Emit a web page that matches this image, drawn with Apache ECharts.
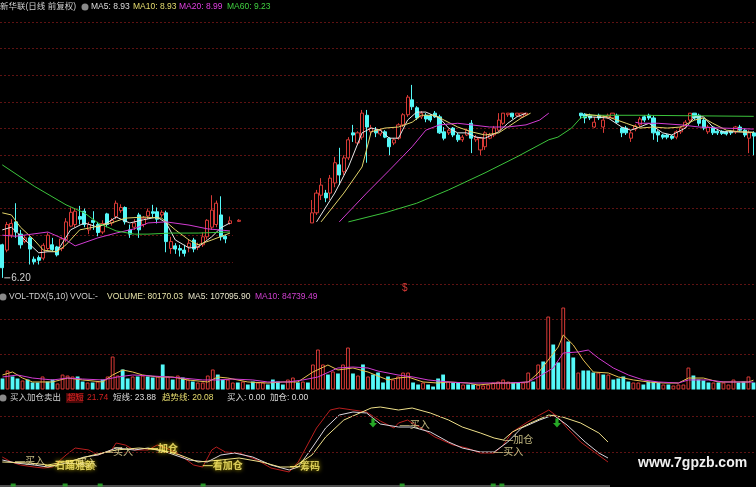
<!DOCTYPE html>
<html>
<head>
<meta charset="utf-8">
<script src="https://cdn.jsdelivr.net/npm/echarts@6/dist/echarts.min.js"></script>
<style>
html,body{margin:0;padding:0;background:#000;}
#c{width:756px;height:487px;}
</style>
</head>
<body>
<div id="c"></div>
<script>
// ---- daily candles: [open, close, low, high] ----
const candleLeftStart = 0;
const candleLeft = [
  [6.82,6.39,6.20,6.84],[6.72,7.20,6.68,7.25],[7.00,7.22,6.95,7.30],[7.25,7.06,6.95,7.60],[7.02,6.82,6.75,7.10],
  [6.88,6.95,6.85,7.00],[6.95,6.74,6.45,6.98],[6.55,6.50,6.45,6.60],[6.58,6.53,6.45,6.62],[6.57,6.81,6.53,6.85],
  [6.75,7.00,6.70,7.05],[6.82,6.73,6.70,6.95],[6.78,6.63,6.60,6.80],[6.75,6.93,6.70,6.97],[6.92,7.25,6.87,7.32],
  [7.17,7.43,7.15,7.52],[7.20,7.45,7.15,7.50],[7.35,7.30,7.20,7.55],[7.45,7.20,7.15,7.50],[7.10,7.20,7.02,7.25],
  [7.28,7.24,7.10,7.45],[7.20,7.05,6.98,7.25],[7.06,7.22,7.02,7.28],[7.40,7.20,7.15,7.42],[7.23,7.28,7.18,7.32],
  [7.35,7.60,7.30,7.65],[7.46,7.52,7.42,7.58],[7.52,7.25,7.20,7.54],[7.10,7.02,6.95,7.20],[7.15,7.23,7.10,7.30],
  [7.38,7.10,6.95,7.42],[7.20,7.32,7.15,7.36],[7.36,7.45,7.30,7.50],[7.44,7.41,7.33,7.57],[7.44,7.30,7.22,7.52],
  [7.38,7.43,7.34,7.47],[7.42,6.88,6.68,7.46],[6.75,6.88,6.65,6.97],[6.80,6.74,6.65,6.85],[6.75,6.72,6.60,6.82],
  [6.72,6.66,6.60,6.82],[6.78,6.85,6.68,6.92],[6.91,6.74,6.68,6.95],[6.77,6.82,6.72,6.86],[6.82,6.97,6.78,7.05],
  [6.97,7.28,6.92,7.30],[7.15,7.47,7.10,7.75],[7.20,7.60,7.15,7.65],[7.38,6.97,6.90,7.73],[6.98,6.93,6.85,7.00],
  [7.22,7.27,7.20,7.35]
];
const candleDojiStart = 52;
const candleDoji = [[7.26,7.28,7.25,7.30]];
const candleRallyStart = 68;
const candleRally = [
  [7.23,7.42,7.23,7.66],[7.42,7.79,7.38,7.85],[7.75,7.94,7.66,8.07],[7.79,7.70,7.62,7.85],[7.79,8.07,7.66,8.13],
  [7.98,8.36,7.90,8.47],[8.32,8.13,7.94,8.64],[8.19,8.45,8.13,8.50],[8.45,8.79,8.41,8.84],[8.92,8.88,8.75,9.07],
  [8.73,8.92,8.69,8.95],[8.84,9.29,8.79,9.35],[9.25,9.03,8.36,9.35],[8.94,9.01,8.90,9.07],[8.97,8.92,8.84,9.03],
  [8.90,8.97,8.86,9.00],[8.94,8.84,8.82,8.97],[8.82,8.66,8.50,8.84],[8.73,8.79,8.69,8.82],[8.82,9.07,8.79,9.10],
  [9.07,9.26,9.03,9.29],[9.26,9.59,9.22,9.63],[9.54,9.41,9.35,9.82],[9.39,9.20,9.16,9.42],[9.22,9.29,9.18,9.33],
  [9.25,9.18,9.12,9.29],[9.24,9.16,9.12,9.27],[9.29,9.22,9.20,9.33],[9.22,8.92,8.90,9.26],[8.94,8.82,8.78,9.03],
  [8.92,8.97,8.88,9.00],[9.01,8.88,8.84,9.03],[8.88,8.79,8.75,8.92],[8.79,8.84,8.75,8.88],[8.88,8.97,8.86,9.00],
  [9.10,8.82,8.54,9.16],[8.79,8.84,8.75,8.88],[8.60,8.82,8.50,8.84],[8.66,8.92,8.60,8.95],[8.82,8.88,8.80,8.92],
  [8.88,9.01,8.84,9.05],[8.97,9.16,8.94,9.29],[9.10,9.29,9.07,9.29],[9.26,9.29,9.22,9.29],[9.29,9.22,9.18,9.29],
  [9.25,9.29,9.22,9.29],[9.22,9.29,9.20,9.29],[9.26,9.29,9.24,9.29]
];
const candleLateStart = 127;
const candleLate = [
  [9.29,9.24,9.18,9.29],[9.27,9.20,9.10,9.29],[9.25,9.20,9.16,9.28],[9.03,9.12,9.01,9.22],[9.25,9.20,9.16,9.28],
  [9.03,9.16,8.92,9.25],[9.20,9.25,9.18,9.28],[9.20,9.29,9.18,9.29],[9.25,9.12,9.10,9.28],[9.01,8.92,8.84,9.03],
  [9.01,8.92,8.88,9.05],[8.82,8.92,8.75,8.97],[8.99,9.05,8.95,9.08],[9.07,9.18,9.03,9.22],[9.22,9.16,9.12,9.25],
  [9.25,9.20,9.16,9.28],[9.20,8.92,8.79,9.25],[8.94,8.88,8.75,8.97],[8.88,8.84,8.80,8.90],[8.88,8.84,8.80,8.90],
  [8.86,8.82,8.79,8.88],[8.84,8.94,8.80,8.97],[8.94,9.01,8.90,9.05],[9.03,9.12,9.00,9.16],[9.16,9.29,9.12,9.29],
  [9.29,9.20,9.16,9.29],[9.25,9.10,9.05,9.28],[9.16,9.01,8.97,9.20],[8.94,9.03,8.90,9.07],[9.03,8.92,8.88,9.05],
  [8.95,8.92,8.88,8.97],[8.95,8.91,8.88,8.97],[8.94,8.90,8.87,8.96],[8.95,8.92,8.88,8.97],[8.94,9.03,8.90,9.05],
  [9.03,8.97,8.94,9.07],[8.97,8.88,8.84,9.00],[8.82,8.92,8.54,8.97],[8.92,8.86,8.50,8.95]
];
const priceBarCount = 166;
const lowestPrice = 6.20;

// ---- price moving averages: [bar index, value] ----
const ma5Early  = [[0,7.10],[2,7.15],[5,6.91],[8,6.67],[10,6.69],[12,6.69],[15,7.10],[18,7.23],[21,7.15],[23,7.23],[25,7.34],[28,7.23],[31,7.29],[34,7.34],[36,7.23],[38,6.91],[41,6.76],[43,6.78],[46,6.97],[48,7.14],[50,7.23]];
const ma10Early = [[0,7.42],[2,7.38],[4,7.15],[7,6.91],[9,6.72],[12,6.69],[14,6.82],[17,7.10],[20,7.15],[24,7.23],[27,7.32],[31,7.34],[35,7.32],[38,7.10],[41,6.91],[43,6.82],[46,6.91],[50,7.04]];
const ma20Early = [[0,7.00],[3,6.98],[10,7.06],[14,6.91],[16,6.80],[21,6.95],[25,7.04],[29,7.12],[32,7.23],[36,7.25],[41,7.19],[45,7.12],[50,7.08]];
const ma60Early = [[0,8.32],[7,7.92],[14,7.57],[18,7.42],[21,7.23],[25,7.08],[29,7.02],[32,7.02],[37,7.04],[43,7.04],[50,7.06]];

const ma5Rally  = [[69,7.25],[73,7.79],[76,8.28],[79,8.92],[81,9.01],[83,8.97],[85,8.82],[87,8.82],[89,9.16],[91,9.31],[93,9.31],[96,9.20],[98,9.01],[100,8.92],[102,8.92],[104,8.84],[106,8.82],[109,8.94],[111,9.10],[113,9.22],[115,9.29]];
const ma10Rally = [[70,7.25],[75,7.79],[79,8.28],[81,8.94],[84,9.01],[87,9.03],[90,9.12],[92,9.25],[95,9.25],[97,9.16],[100,9.03],[103,8.94],[106,8.88],[109,8.92],[111,9.03],[114,9.20],[116,9.29]];
const ma20Rally = [[74,7.25],[80,7.79],[85,8.22],[90,8.66],[93,8.97],[96,9.07],[100,9.10],[103,9.07],[107,9.03],[111,9.03],[115,9.07],[118,9.16],[120,9.29]];
const ma60Rally = [[76,7.25],[84,7.42],[91,7.60],[98,7.85],[106,8.17],[113,8.47],[120,8.79],[122,8.84],[125,9.01],[127,9.20],[129,9.25],[140,9.25],[152,9.24],[165,9.23]];

const ma5Late  = [[128,9.26],[129,9.22],[133,9.20],[136,9.03],[138,8.97],[140,9.03],[142,9.10],[145,8.92],[147,8.88],[150,9.01],[152,9.22],[154,9.22],[156,9.03],[158,8.94],[161,8.94],[165,8.93]];
const ma10Late = [[128,9.27],[133,9.22],[137,9.10],[140,9.01],[143,9.03],[146,9.01],[149,9.03],[152,9.16],[154,9.20],[156,9.10],[159,8.97],[162,8.94],[165,8.93]];
const ma20Late = [[139,9.12],[140,9.10],[144,9.10],[149,9.07],[153,9.03],[158,9.01],[162,9.00],[165,8.99]];

// ---- volume ----
const volumes = [
  126000,217000,149000,126000,103000,114000,80000,80000,149000,91000,
  114000,69000,171000,160000,149000,149000,91000,80000,80000,91000,
  114000,149000,377000,160000,229000,126000,149000,149000,160000,149000,
  137000,149000,286000,149000,114000,160000,137000,114000,91000,80000,
  80000,160000,229000,171000,114000,114000,80000,80000,91000,57000,
  91000,80000,80000,57000,114000,91000,57000,114000,137000,80000,
  91000,80000,286000,457000,286000,171000,206000,183000,286000,480000,
  183000,160000,286000,149000,171000,194000,80000,149000,114000,149000,
  194000,194000,80000,57000,80000,57000,34000,126000,171000,91000,
  80000,80000,57000,57000,57000,57000,46000,57000,80000,91000,
  114000,91000,80000,80000,80000,194000,91000,286000,320000,834000,
  514000,309000,937000,549000,366000,194000,217000,217000,194000,194000,
  171000,171000,114000,126000,149000,91000,80000,80000,57000,91000,
  91000,80000,57000,57000,46000,57000,57000,251000,160000,114000,
  103000,80000,80000,80000,80000,57000,114000,80000,91000,149000,
  80170.03
];
// 1 = rising day (hollow red bar), 0 = falling day (solid cyan bar)
const volRising = [
  0,1,0,0,1,0,0,0,1,0, 0,1,1,1,1,0,0,1,0,1, 0,1,1,1,0,0,1,0,1,0,
  0,1,0,1,0,1,0,1,0,1, 1,1,1,0,0,1,1,0,1,0, 0,1,1,0,0,0,0,1,1,0,
  1,0,1,1,1,0,1,0,1,1, 0,1,0,1,0,0,0,0,1,1, 1,1,0,0,1,0,0,0,0,1,
  0,0,1,0,0,1,1,1,1,1, 1,1,0,0,1,1,0,1,0,1, 0,0,1,0,0,1,0,0,0,1,
  0,1,0,0,0,0,1,1,0,0, 0,0,1,0,1,1,1,1,0,0, 0,0,1,0,1,1,1,0,0,1,
  0
];
const volMa5 = [[0,166000],[2,200000],[4,131000],[6,86000],[10,86000],[13,131000],[16,109000],[20,86000],[22,166000],[24,223000],[26,200000],[28,166000],[31,143000],[34,143000],[37,109000],[41,86000],[43,143000],[45,131000],[49,86000],[53,74000],[56,86000],[59,86000],[62,200000],[65,280000],[67,223000],[70,246000],[73,200000],[75,154000],[77,109000],[79,131000],[81,143000],[84,86000],[87,74000],[89,86000],[93,74000],[95,51000],[99,74000],[102,74000],[105,86000],[107,189000],[109,337000],[111,486000],[112,623000],[114,509000],[116,337000],[118,200000],[121,189000],[123,143000],[126,109000],[129,86000],[132,74000],[135,74000],[137,131000],[140,131000],[143,86000],[146,86000],[149,86000],[150,107095.90]];
const volMa10 = [[0,143000],[3,166000],[6,131000],[10,109000],[13,131000],[16,120000],[20,109000],[23,143000],[26,166000],[30,154000],[33,143000],[36,131000],[40,109000],[43,109000],[46,120000],[50,109000],[53,86000],[57,86000],[60,109000],[63,143000],[67,246000],[70,257000],[73,246000],[75,211000],[79,166000],[82,143000],[85,109000],[89,86000],[93,74000],[97,74000],[101,74000],[105,86000],[107,143000],[110,246000],[112,417000],[115,429000],[117,451000],[119,360000],[122,246000],[125,166000],[128,109000],[131,86000],[135,74000],[137,109000],[141,109000],[144,86000],[147,86000],[150,84739.49]];

// ---- 买入加仓卖出 indicator: [bar index, value] ----
const ultraShort = [[0,29],[2,24],[4,21],[7,19],[9,18],[11,19],[14,31],[16,38],[19,36],[21,31],[24,36],[25,43],[27,41],[29,36],[32,36],[34,41],[36,38],[39,31],[42,21],[44,19],[46,36],[47,39],[49,34],[52,33],[56,26],[59,18],[63,14],[65,24],[67,41],[69,58],[72,76],[74,78],[77,76],[80,74],[83,65],[86,58],[87,63],[89,66],[90,63],[92,58],[95,49],[99,41],[102,38],[105,33],[108,33],[110,41],[112,54],[115,63],[118,71],[120,76],[122,69],[124,58],[127,44],[130,34],[133,24]];
const shortLine = [[0,26],[3,23],[7,21],[10,19],[14,23],[18,29],[21,31],[25,38],[29,36],[32,38],[36,34],[41,26],[45,24],[48,31],[51,33],[55,29],[59,21],[63,16],[65,19],[68,38],[71,58],[74,71],[77,74],[80,73],[83,62],[87,59],[90,59],[94,54],[98,44],[101,38],[105,34],[108,34],[111,44],[114,58],[118,66],[121,71],[124,61],[128,44],[131,33],[133,28]];
const trendLine = [[0,24],[6,23],[10,21],[16,26],[20,31],[25,36],[30,38],[35,36],[39,31],[43,24],[48,26],[52,28],[57,24],[61,19],[64,19],[68,31],[71,49],[75,66],[79,74],[81,78],[83,79],[87,76],[90,78],[94,73],[98,66],[101,59],[105,53],[108,48],[110,46],[112,54],[116,63],[120,71],[123,69],[127,63],[131,53],[133,44]];
// [bar index, value, text, emphasised]
const signalMarks = [[2.8,25,'买入',0],[9.4,20,'石踊雅额',1],[14.2,23,'买入',0],[22.1,34,'买入',0],[32,37,'加仓',1],[44,20,'看加仓',1],[63.2,19,'筹码',1],[87.3,61,'买入',0],[110,46,'加仓',0],[107.8,34,'买入',0]];
const sellArrows = [[81.4,63],[121.8,63]];
const bottomTicks = [[2.4,1],[13.8,1],[21.5,1],[44.1,1],[87.8,1],[107.8,1],[109.7,1]];
const indLevels = [34, 70];

// ---- build ----
function rowsAt(start, rows) { return rows.map((r, k) => [start + k].concat(r)); }
const candleData = [].concat(
  rowsAt(candleLeftStart, candleLeft),
  rowsAt(candleDojiStart, candleDoji),
  rowsAt(candleRallyStart, candleRally),
  rowsAt(candleLateStart, candleLate)
);
const priceCats = Array.from({length: priceBarCount}, (_, i) => String(i));
const volCats = volumes.map((_, i) => String(i));

const RED = '#d83a36', CYAN = '#54f8f8';
const C5 = '#e6e6e6', C10 = '#e2d46a', C20 = '#d23cd2', C60 = '#3cc43c';
const GRIDC = '#5e1212';
const FONT = '"Liberation Sans","Noto Sans CJK SC",sans-serif';

function line(data, color, xi, yi, extra) {
  return Object.assign({
    type: 'line', xAxisIndex: xi, yAxisIndex: yi, data: data,
    symbol: 'none', showSymbol: false, silent: true, animation: false,
    lineStyle: { color: color, width: 1 }, z: 3
  }, extra || {});
}

function yAx(grid, min, max, interval, split, showMin) {
  return {
    type: 'value', gridIndex: grid, min: min, max: max, interval: interval,
    axisLine: { show: false }, axisTick: { show: false }, axisLabel: { show: false },
    splitLine: split
      ? { show: true, showMinLine: showMin, lineStyle: { color: GRIDC, type: [2, 2], width: 1 } }
      : { show: false }
  };
}

const series = [
  {
    type: 'candlestick', xAxisIndex: 0, yAxisIndex: 0, data: candleData,
    encode: { x: 0, y: [1, 2, 3, 4] }, barWidth: 3.6, silent: true,
    itemStyle: { color: '#000', color0: CYAN, borderColor: RED, borderColor0: CYAN, borderWidth: 1 },
    markPoint: {
      symbol: 'rect', symbolSize: [6, 1], symbolOffset: [5, 0], silent: true,
      itemStyle: { color: '#cfcfcf' },
      label: { show: true, position: 'right', distance: 1, color: '#cfcfcf', fontSize: 10, fontFamily: FONT, formatter: lowestPrice.toFixed(2) },
      data: [{ coord: [0, lowestPrice], value: lowestPrice }]
    }
  },
  line(ma5Early, C5, 1, 0), line(ma10Early, C10, 1, 0), line(ma20Early, C20, 1, 0), line(ma60Early, C60, 1, 0),
  line(ma5Rally, C5, 1, 0), line(ma10Rally, C10, 1, 0), line(ma20Rally, C20, 1, 0), line(ma60Rally, C60, 1, 0),
  line(ma5Late, C5, 1, 0), line(ma10Late, C10, 1, 0), line(ma20Late, C20, 1, 0),
  {
    type: 'bar', xAxisIndex: 2, yAxisIndex: 1, barWidth: 3.8, silent: true,
    data: volumes.map((v, i) => ({
      value: v,
      itemStyle: volRising[i] ? { color: '#000', borderColor: RED, borderWidth: 1 } : { color: CYAN }
    }))
  },
  line(volMa5, '#e8c050', 3, 1), line(volMa10, '#d23cd2', 3, 1),
  line(ultraShort, '#b81e1e', 4, 2, {
    markLine: {
      silent: true, symbol: 'none', label: { show: false },
      lineStyle: { color: GRIDC, type: [2, 2], width: 1 },
      data: indLevels.map(v => ({ yAxis: v }))
    }
  }),
  line(shortLine, '#d9d4dc', 4, 2),
  line(trendLine, '#efe08a', 4, 2),
  {
    type: 'scatter', xAxisIndex: 4, yAxisIndex: 2, symbolSize: 0, silent: true, z: 5,
    data: signalMarks.map(s => ({
      value: s,
      label: s[3] ? { color: '#fff070', fontWeight: 'bold', textShadowColor: '#e8d000', textShadowBlur: 4 } : {}
    })),
    label: {
      show: true, position: 'right', distance: 0, color: '#f2e6a0', fontSize: 10, fontFamily: FONT,
      formatter: p => '\u2014' + p.data.value[2]
    }
  },
  {
    type: 'scatter', xAxisIndex: 4, yAxisIndex: 2, data: sellArrows, silent: true, z: 5,
    symbol: 'path://M3,0 L7,0 L7,5 L10,5 L5,10 L0,5 L3,5 Z', symbolSize: [8, 9],
    itemStyle: { color: '#2fd12f' }
  },
  {
    type: 'scatter', xAxisIndex: 4, yAxisIndex: 2, data: bottomTicks, silent: true, z: 5,
    symbol: 'rect', symbolSize: [5, 3], itemStyle: { color: '#2fb82f' }
  }
];

function txt(x, y, s, color, size, weight) {
  return { type: 'text', x: x, y: y, z: 50, silent: true,
    style: { text: s, fill: color, font: (weight || 'normal') + ' ' + (size || 8.5) + 'px ' + FONT, verticalAlign: 'middle' } };
}
function dot(x, y) {
  return { type: 'circle', z: 50, silent: true, shape: { cx: x, cy: y, r: 3.5 }, style: { fill: '#8a8a8a' } };
}

const option = {
  backgroundColor: '#000',
  animation: false,
  grid: [
    { left: 0, right: 0, top: 22, height: 266.5 },
    { left: 0, right: 0, top: 284.5, height: 105 },
    { left: 0, right: 0, top: 398, height: 88 }
  ],
  xAxis: [
    { type: 'category', gridIndex: 0, data: priceCats, show: false },
    { type: 'value', gridIndex: 0, min: -0.5, max: priceBarCount - 0.5, show: false },
    { type: 'category', gridIndex: 1, data: volCats, show: false },
    { type: 'value', gridIndex: 1, min: -0.5, max: volumes.length - 0.5, show: false },
    { type: 'value', gridIndex: 2, min: -0.5, max: priceBarCount - 0.5, show: false }
  ],
  yAxis: [
    yAx(0, 6, 11, 0.5, true, false),
    yAx(1, 0, 1200000, 400000, true, false),
    yAx(2, 0, 88, 44, false, false)
  ],
  series: series,
  graphic: [
    // panel strip without grid lines below the rally
    { type: 'rect', z: 1, silent: true, shape: { x: 233, y: 223, width: 523, height: 60 }, style: { fill: '#000' } },
    txt(0, 7, '新华联(日线 前复权)', '#cfcfcf'),
    dot(85, 7),
    txt(91, 7, 'MA5: 8.93', '#dedede'),
    txt(133, 7, 'MA10: 8.93', '#e6dc6e'),
    txt(179, 7, 'MA20: 8.99', '#e040e0'),
    txt(227, 7, 'MA60: 9.23', '#40d040'),
    txt(402, 288, '$', '#d83a36', 10),
    dot(3, 297),
    txt(9, 297, 'VOL-TDX(5,10)', '#cfcfcf'),
    txt(70, 297, 'VVOL:-', '#cfcfcf'),
    txt(107, 297, 'VOLUME: 80170.03', '#e6e2a8'),
    txt(188, 297, 'MA5: 107095.90', '#e6e2c8'),
    txt(255, 297, 'MA10: 84739.49', '#d040d0'),
    dot(3, 398),
    txt(10, 398, '买入加仓卖出', '#cfcfcf'),
    { type: 'rect', z: 49, silent: true, shape: { x: 66, y: 393, width: 17, height: 10 }, style: { fill: '#4a0808' } },
    txt(67, 398, '超短', '#e02424'),
    txt(87, 398, '21.74', '#d02020'),
    txt(113, 398, '短线: 23.88', '#dedede'),
    txt(162, 398, '趋势线: 20.08', '#e6dc6e'),
    txt(227, 398, '买入: 0.00', '#dedede'),
    txt(270, 398, '加仓: 0.00', '#dedede'),
    { type: 'line', z: 5, silent: true, shape: { x1: 0, y1: 486, x2: 610, y2: 486 }, style: { stroke: '#9a9a9a', lineWidth: 1 } },
    txt(638, 463, 'www.7gpzb.com', '#f0f0f0', 14, 'bold')
  ]
};

const chart = echarts.init(document.getElementById('c'), null, { renderer: 'canvas' });
chart.setOption(option);
</script>
</body>
</html>
